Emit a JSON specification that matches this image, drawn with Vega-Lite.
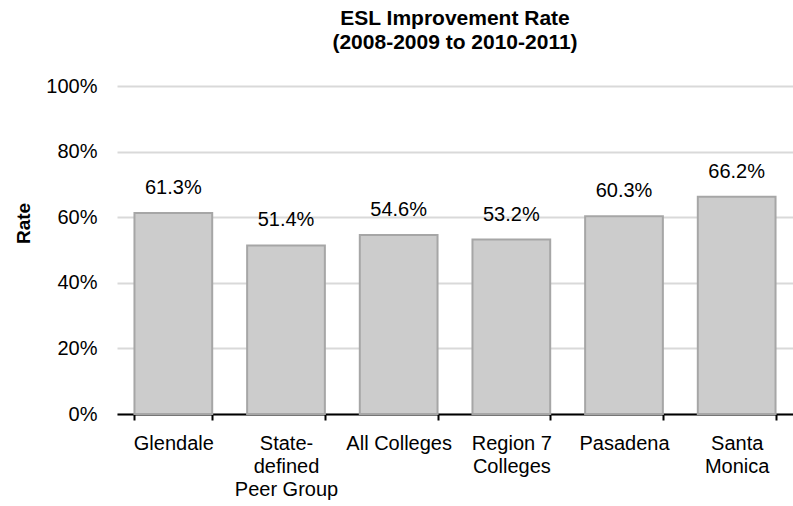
{
  "$schema": "https://vega.github.io/schema/vega-lite/v6.json",
  "width": 676,
  "height": 328,
  "autosize": {"type": "none"},
  "padding": {"left": 117, "top": 86, "right": 0, "bottom": 92},
  "background": "white",
  "config": {"view": {"stroke": null}, "font": "Liberation Sans"},
  "title": {
    "text": ["ESL Improvement Rate", "(2008-2009 to 2010-2011)"],
    "fontSize": 21,
    "fontWeight": "bold",
    "font": "Liberation Sans",
    "color": "black",
    "anchor": "middle",
    "lineHeight": 24,
    "offset": 23
  },
  "data": {
    "values": [
      {"college": "Glendale", "rate": 0.613},
      {"college": "State-defined Peer Group", "rate": 0.514},
      {"college": "All Colleges", "rate": 0.546},
      {"college": "Region 7 Colleges", "rate": 0.532},
      {"college": "Pasadena", "rate": 0.603},
      {"college": "Santa Monica", "rate": 0.662}
    ]
  },
  "encoding": {
    "x": {
      "field": "college",
      "type": "nominal",
      "sort": null,
      "scale": {"paddingInner": 0.31, "paddingOuter": 0.155},
      "axis": {
        "title": null,
        "labelAngle": 0,
        "labelFontSize": 20,
        "labelColor": "black",
        "labelPadding": 13,
        "labelLineHeight": 23,
        "labelBaseline": "top",
        "tickBand": "extent",
        "ticks": true,
        "tickColor": "black",
        "tickSize": 6,
        "tickWidth": 2,
        "domainColor": "black",
        "domainWidth": 2,
        "labelExpr": "datum.value == 'State-defined Peer Group' ? ['State-', 'defined', 'Peer Group'] : datum.value == 'Region 7 Colleges' ? ['Region 7', 'Colleges'] : datum.value == 'Santa Monica' ? ['Santa', 'Monica'] : datum.value"
      }
    },
    "y": {
      "field": "rate",
      "type": "quantitative",
      "scale": {"domain": [0, 1]},
      "axis": {
        "format": ".0%",
        "values": [0, 0.2, 0.4, 0.6, 0.8, 1],
        "grid": true,
        "gridColor": "#d9d9d9",
        "gridWidth": 2,
        "domain": false,
        "ticks": false,
        "labelPadding": 20,
        "labelFontSize": 20,
        "labelColor": "black",
        "title": "Rate",
        "titleFontSize": 19,
        "titleFontWeight": "bold",
        "titleColor": "black",
        "titlePadding": 12,
        "titleY": 137
      }
    }
  },
  "layer": [
    {
      "mark": {"type": "bar", "fill": "#cccccc", "stroke": "#a6a6a6", "strokeWidth": 2}
    },
    {
      "mark": {"type": "text", "fontSize": 20, "color": "black", "baseline": "alphabetic", "dy": -19},
      "encoding": {
        "text": {"field": "rate", "type": "quantitative", "format": ".1%"}
      }
    }
  ]
}
